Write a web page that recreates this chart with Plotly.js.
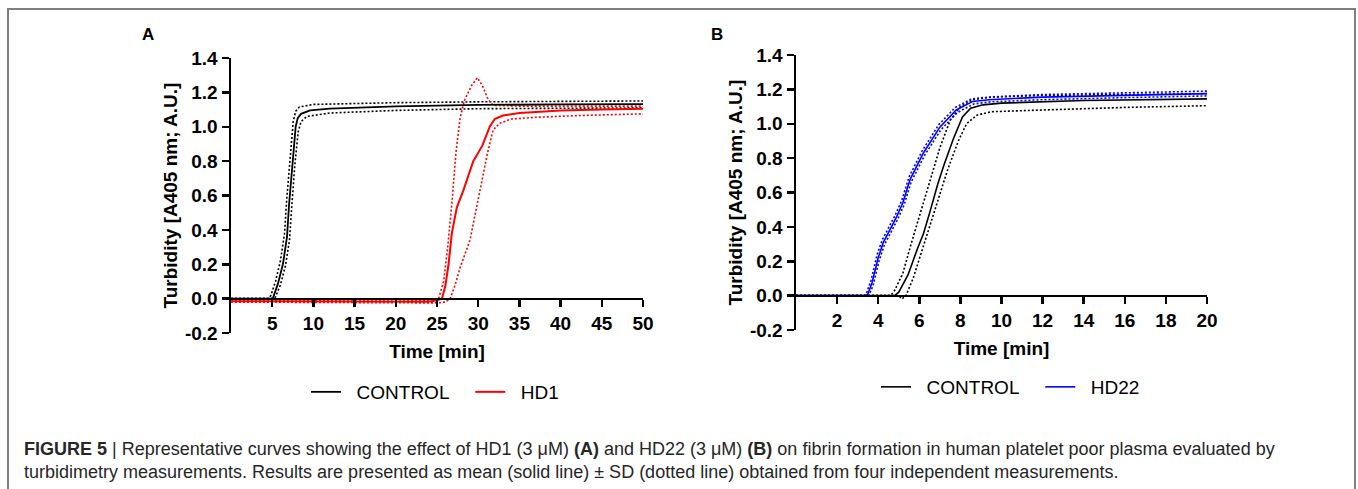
<!DOCTYPE html>
<html>
<head>
<meta charset="utf-8">
<script src="https://cdn.plot.ly/plotly-3.0.1.min.js"></script>
<style>html,body{margin:0;padding:0;background:#fff;}#chart{width:1358px;height:489px;}</style>
</head>
<body>
<div id="chart"></div>
<script>
// ---------- Panel A data (time in min, turbidity A.U.) ----------
var aCtrlT   = [0, 4.9, 5.1, 5.7, 6.3, 6.8, 7.05, 7.45, 7.85, 8.1, 8.5, 9.6, 12, 20, 30, 40, 50];
var aCtrlV   = [0, 0, 0.005, 0.087, 0.2, 0.36, 0.55, 0.8, 1.0, 1.05, 1.075, 1.095, 1.105, 1.118, 1.127, 1.13, 1.132];
var aCtrlUpT = [0, 4.6, 4.85, 5.4, 6.0, 6.5, 6.75, 7.15, 7.55, 7.85, 8.3, 10, 20, 30, 50];
var aCtrlUpV = [0, 0, 0.02, 0.1, 0.22, 0.38, 0.57, 0.82, 1.03, 1.09, 1.115, 1.13, 1.14, 1.145, 1.15];
var aCtrlLoT = [0, 5.2, 5.4, 6.0, 6.6, 7.1, 7.35, 7.75, 8.15, 8.5, 9.2, 12, 20, 30, 50];
var aCtrlLoV = [0, 0, 0.01, 0.08, 0.19, 0.34, 0.52, 0.78, 0.97, 1.03, 1.06, 1.08, 1.095, 1.105, 1.11];
var aHdT     = [0, 10, 20, 24, 25, 25.6, 26.0, 26.4, 26.8, 27.4, 28.2, 29.4, 30.5, 31.4, 32.0, 33, 35, 40, 45, 50];
var aHdV     = [-0.015, -0.018, -0.02, -0.018, -0.01, 0.0, 0.07, 0.2, 0.38, 0.53, 0.63, 0.8, 0.89, 1.0, 1.045, 1.065, 1.08, 1.095, 1.1, 1.105];
var aHdUpT   = [0, 20, 24.5, 25.2, 25.8, 26.3, 26.8, 27.3, 27.8, 28.3, 29.2, 29.9, 30.5, 31.2, 31.8, 35, 50];
var aHdUpV   = [-0.01, -0.015, -0.01, 0.0, 0.1, 0.3, 0.55, 0.85, 1.05, 1.15, 1.24, 1.285, 1.24, 1.16, 1.125, 1.12, 1.12];
var aHdLoT   = [0, 20, 25, 26, 26.6, 27.2, 27.8, 29.0, 29.6, 30.2, 31.1, 31.8, 32.6, 34, 37, 42, 50];
var aHdLoV   = [-0.02, -0.025, -0.025, -0.02, 0.0, 0.08, 0.18, 0.34, 0.48, 0.63, 0.84, 0.98, 1.02, 1.045, 1.055, 1.065, 1.075];

// ---------- Panel B data ----------
var bCtrlT   = [0, 4.8, 5.0, 5.45, 5.9, 6.2, 6.5, 6.9, 7.2, 7.65, 8.1, 8.5, 9.1, 10, 14, 20];
var bCtrlV   = [0, 0, 0.02, 0.12, 0.27, 0.36, 0.48, 0.65, 0.76, 0.91, 1.04, 1.09, 1.11, 1.12, 1.135, 1.145];
var bCtrlUpT = [0, 4.6, 4.8, 5.2, 5.6, 6.0, 6.5, 7.0, 7.5, 8.0, 8.6, 9.5, 12, 16, 20];
var bCtrlUpV = [0, 0, 0.03, 0.13, 0.3, 0.46, 0.66, 0.86, 1.02, 1.1, 1.14, 1.155, 1.165, 1.17, 1.175];
var bCtrlLoT = [0, 5.0, 5.15, 5.35, 5.7, 6.1, 6.5, 6.9, 7.4, 7.9, 8.3, 8.8, 9.5, 12, 16, 20];
var bCtrlLoV = [0, 0, -0.02, 0.0, 0.1, 0.25, 0.4, 0.55, 0.74, 0.9, 1.0, 1.05, 1.07, 1.08, 1.095, 1.105];
var bHdT     = [0, 3.4, 3.5, 3.7, 4.0, 4.25, 4.6, 4.9, 5.2, 5.55, 6.2, 7.0, 7.8, 8.6, 9.4, 12, 16, 20];
var bHdV     = [0, 0, 0.01, 0.075, 0.22, 0.31, 0.39, 0.46, 0.54, 0.675, 0.83, 0.98, 1.08, 1.13, 1.14, 1.155, 1.165, 1.175];
var bHdUpT   = [0, 3.35, 3.45, 3.65, 3.95, 4.2, 4.55, 4.85, 5.15, 5.5, 6.15, 6.95, 7.75, 8.55, 9.35, 12, 16, 20];
var bHdUpV   = [0, 0, 0.02, 0.09, 0.24, 0.325, 0.405, 0.475, 0.555, 0.69, 0.845, 0.995, 1.095, 1.145, 1.155, 1.17, 1.18, 1.19];
var bHdLoT   = [0, 3.45, 3.55, 3.75, 4.05, 4.3, 4.65, 4.95, 5.25, 5.6, 6.25, 7.05, 7.85, 8.65, 9.45, 12, 16, 20];
var bHdLoV   = [0, 0, 0.0, 0.06, 0.205, 0.295, 0.375, 0.445, 0.525, 0.66, 0.815, 0.965, 1.065, 1.115, 1.127, 1.14, 1.152, 1.162];

// ---------- Tick labels and texts ----------
var yTickVals = [-0.2, 0, 0.2, 0.4, 0.6, 0.8, 1.0, 1.2, 1.4];
var yTickText = ['-0.2', '0.0', '0.2', '0.4', '0.6', '0.8', '1.0', '1.2', '1.4'];
var aXTicks = [5, 10, 15, 20, 25, 30, 35, 40, 45, 50];
var bXTicks = [2, 4, 6, 8, 10, 12, 14, 16, 18, 20];
var seriesNames = ['CONTROL', 'HD1', 'HD22'];
var yTitle = 'Turbidity [A405 nm; A.U.]';
var xTitle = 'Time [min]';
var caption1 = '<b>FIGURE 5</b> | Representative curves showing the effect of HD1 (3 \u03bcM) <b>(A)</b> and HD22 (3 \u03bcM) <b>(B)</b> on fibrin formation in human platelet poor plasma evaluated by';
var caption2 = 'turbidimetry measurements. Results are presented as mean (solid line) \u00b1 SD (dotted line) obtained from four independent measurements.';

var FONT = 'Liberation Sans, Arial, sans-serif';
var W = 1358, H = 489;
function px(x) { return x / W; }
function py(y) { return 1 - y / H; }

var dotted = '2px,2px';
function tr(x, y, color, dash, width, xa, ya, name, show, legend) {
  return {
    x: x, y: y, type: 'scatter', mode: 'lines',
    line: {color: color, width: width, dash: dash || 'solid'},
    xaxis: xa, yaxis: ya, name: name || '', showlegend: !!show,
    legend: legend || 'legend', hoverinfo: 'skip'
  };
}
var lead = '\u00a0\u00a0';
var trail = '\u00a0\u00a0\u00a0';
var data = [
  tr(aCtrlUpT, aCtrlUpV, '#000000', dotted, 1.6, 'x', 'y'),
  tr(aCtrlLoT, aCtrlLoV, '#000000', dotted, 1.6, 'x', 'y'),
  tr(aHdUpT, aHdUpV, '#ff0000', dotted, 1.6, 'x', 'y'),
  tr(aHdLoT, aHdLoV, '#ff0000', dotted, 1.6, 'x', 'y'),
  tr(aCtrlT, aCtrlV, '#000000', 'solid', 1.8, 'x', 'y', lead + seriesNames[0] + trail, true, 'legend'),
  tr(aHdT, aHdV, '#ff0000', 'solid', 2, 'x', 'y', lead + seriesNames[1], true, 'legend'),
  tr(bCtrlUpT, bCtrlUpV, '#000000', dotted, 1.6, 'x2', 'y2'),
  tr(bCtrlLoT, bCtrlLoV, '#000000', dotted, 1.6, 'x2', 'y2'),
  tr(bHdUpT, bHdUpV, '#0000ff', dotted, 1.6, 'x2', 'y2'),
  tr(bHdLoT, bHdLoV, '#0000ff', dotted, 1.6, 'x2', 'y2'),
  tr(bCtrlT, bCtrlV, '#000000', 'solid', 1.6, 'x2', 'y2', lead + seriesNames[0] + trail, true, 'legend2'),
  tr(bHdT, bHdV, '#0000ff', 'solid', 1.6, 'x2', 'y2', lead + seriesNames[2], true, 'legend2')
];

var yDomA = [py(333), py(58)];
var yDomB = [py(330), py(55)];
var zeroFrac = 0.2 / 1.6;

var tickFont = {family: FONT, size: 19, color: '#000', weight: 'bold'};
var titleFont = {family: FONT, size: 19, color: '#000', weight: 'bold'};

function yax(dom, anchor) {
  return {
    domain: dom, anchor: anchor, range: [-0.2, 1.4], tickmode: 'array',
    tickvals: yTickVals, ticktext: yTickText, ticks: 'outside', ticklen: 7, tickwidth: 2.5,
    tickcolor: '#000', showline: true, linewidth: 2.5, linecolor: '#000',
    showgrid: false, zeroline: false, tickfont: tickFont,
    title: {text: yTitle, font: titleFont, standoff: 3}, fixedrange: true
  };
}
function xax(dom, ydom, range, ticks) {
  return {
    domain: dom, anchor: 'free', position: ydom[0] + zeroFrac * (ydom[1] - ydom[0]),
    range: range, tickmode: 'array', tickvals: ticks, ticktext: ticks.map(String),
    ticks: 'outside', ticklen: 7, tickwidth: 2.5, tickcolor: '#000',
    showline: true, linewidth: 2.5, linecolor: '#000', showgrid: false, zeroline: false,
    tickfont: tickFont, title: {text: xTitle, font: titleFont, standoff: 11}, fixedrange: true
  };
}

var legendFont = {family: FONT, size: 19, color: '#000'};
var layout = {
  width: W, height: H, margin: {l: 0, r: 0, t: 0, b: 0},
  paper_bgcolor: '#ffffff', plot_bgcolor: 'rgba(0,0,0,0)',
  font: {family: FONT, color: '#000'},
  xaxis: xax([px(231), px(643)], yDomA, [0, 50], aXTicks),
  yaxis: yax(yDomA, 'x'),
  xaxis2: xax([px(796), px(1207)], yDomB, [0, 20], bXTicks),
  yaxis2: yax(yDomB, 'x2'),
  legend: {orientation: 'h', x: px(306), y: py(392), xanchor: 'left', yanchor: 'middle',
           font: legendFont, bgcolor: 'rgba(0,0,0,0)', itemclick: false},
  legend2: {orientation: 'h', x: px(876), y: py(387), xanchor: 'left', yanchor: 'middle',
           font: legendFont, bgcolor: 'rgba(0,0,0,0)', itemclick: false},
  shapes: [
    {type: 'line', xref: 'paper', yref: 'paper', x0: px(8), x1: px(1355), y0: py(9), y1: py(9), line: {color: '#7f7f7f', width: 2}},
    {type: 'line', xref: 'paper', yref: 'paper', x0: px(8), x1: px(8), y0: py(8), y1: 0, line: {color: '#7f7f7f', width: 2}},
    {type: 'line', xref: 'paper', yref: 'paper', x0: px(1355), x1: px(1355), y0: py(8), y1: 0, line: {color: '#7f7f7f', width: 2}}
  ],
  annotations: [
    {text: '<b>A</b>', xref: 'paper', yref: 'paper', x: px(148), y: py(35), xanchor: 'center', yanchor: 'middle', showarrow: false, font: {family: FONT, size: 17, color: '#000'}},
    {text: '<b>B</b>', xref: 'paper', yref: 'paper', x: px(717), y: py(35), xanchor: 'center', yanchor: 'middle', showarrow: false, font: {family: FONT, size: 17, color: '#000'}},
    {text: caption1, xref: 'paper', yref: 'paper', x: px(22), y: py(449), xanchor: 'left', yanchor: 'middle', align: 'left', showarrow: false, font: {family: FONT, size: 18, color: '#262626'}},
    {text: caption2, xref: 'paper', yref: 'paper', x: px(22), y: py(472), xanchor: 'left', yanchor: 'middle', align: 'left', showarrow: false, font: {family: FONT, size: 18, color: '#262626'}}
  ]
};

Plotly.newPlot('chart', data, layout, {staticPlot: true, displayModeBar: false});
</script>
</body>
</html>
